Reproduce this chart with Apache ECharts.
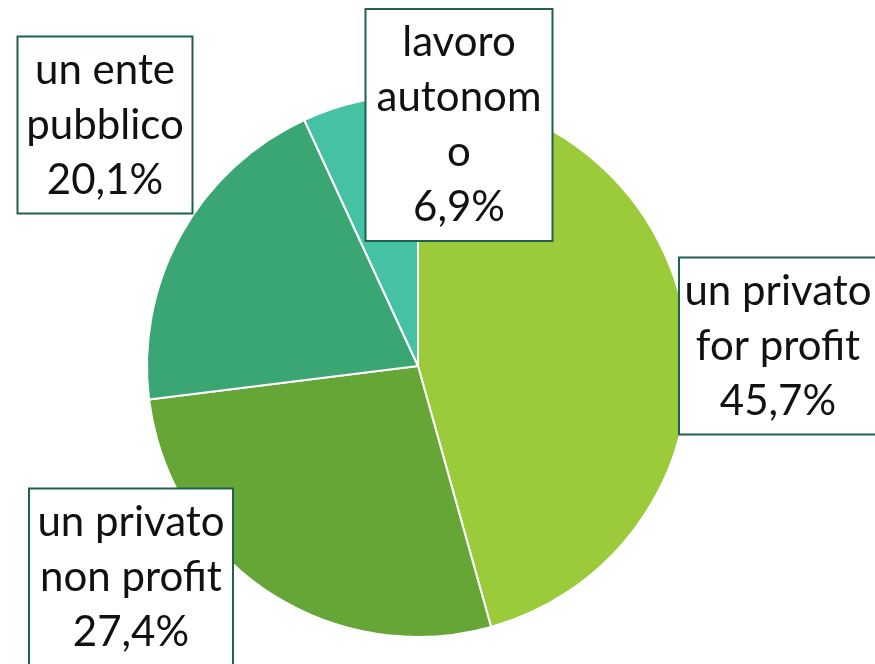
<!DOCTYPE html>
<html>
<head>
<meta charset="utf-8">
<style>
  html, body { margin: 0; padding: 0; background: #fff; }
  #chart { width: 875px; height: 664px; }
</style>
<script src="https://cdn.jsdelivr.net/npm/echarts@6/dist/echarts.min.js"></script>
</head>
<body>
<div id="chart"></div>
<script>
const categories = ['un privato\nfor profit', 'un privato\nnon profit', 'un ente\npubblico', 'lavoro\nautonom\no'];
const shares = [45.7, 27.4, 20.1, 6.9];
const colors = ['#9BCB3B', '#65A637', '#3AA674', '#45C1A4'];

// label boxes, as placed in the original (centre x, centre y, width)
const labelBoxes = [
  { x: 778, y: 346, w: 194 },
  { x: 131, y: 577, w: 200 },
  { x: 105, y: 125, w: 171 },
  { x: 459, y: 125, w: 183 }
];

const chart = echarts.init(document.getElementById('chart'));

const fmt = v => v.toFixed(1).replace('.', ',') + '%';

chart.setOption({
  animation: false,
  color: colors,
  series: [
    {
      type: 'pie',
      center: [418, 366],
      radius: [0, 271],
      startAngle: 90,
      clockwise: true,
      avoidLabelOverlap: false,
      itemStyle: { borderColor: '#fff', borderWidth: 2 },
      labelLine: { show: false },
      label: {
        show: true,
        position: 'outside',
        formatter: p => p.name + '\n' + fmt(p.value),
        fontFamily: 'Lato, "Open Sans", sans-serif',
        fontSize: 42,
        lineHeight: 55,
        color: '#111',
        align: 'center',
        backgroundColor: '#fff',
        borderColor: '#1E6150',
        borderWidth: 2,
        padding: [10, 1, 0, 1]
      },
      labelLayout: p => {
        const b = labelBoxes[p.dataIndex];
        return { x: b.x, y: b.y, align: 'center', verticalAlign: 'middle' };
      },
      data: categories.map((name, i) => ({
        name,
        value: shares[i],
        label: { width: labelBoxes[i].w }
      }))
    }
  ]
});
</script>
</body>
</html>
